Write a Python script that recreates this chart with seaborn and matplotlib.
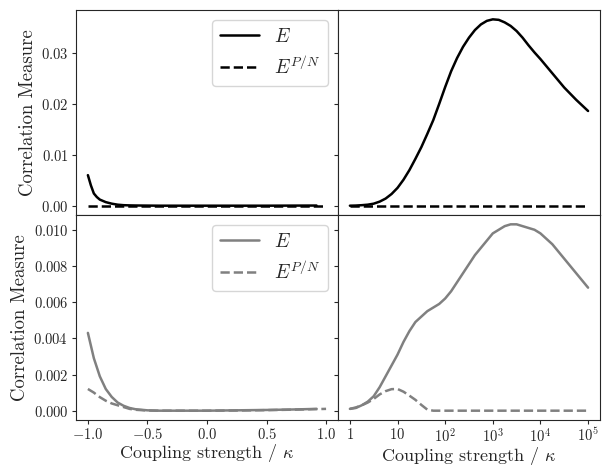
import numpy as np
import matplotlib
matplotlib.use('Agg')
import matplotlib.pyplot as plt
from matplotlib.ticker import NullLocator
import seaborn as sns

# --- data ---
# left column: coupling strength in [-1, 1]
x_left_E = [-1.0, -0.975, -0.95, -0.925, -0.9, -0.85, -0.8, -0.75, -0.7, -0.65,
            -0.6, -0.5, -0.4, -0.25, 0.0, 0.25, 0.5, 0.75, 0.92]
x_left_PN = [-1.0, -0.975, -0.95, -0.925, -0.9, -0.85, -0.8, -0.75, -0.7, -0.65,
             -0.6, -0.5, -0.4, -0.25, 0.0, 0.25, 0.5, 0.75, 1.0]

top_left_E = [0.0060, 0.0040, 0.0024, 0.0017, 0.0012, 0.0007, 0.0004, 0.0002,
              0.0001, 0.00006, 0.00004, 0.00002, 0.0, 0.0, 0.0, 0.0, 0.0,
              0.00002, 0.00003]
top_left_PN = [0.0] * 19

bot_left_E = [0.0043, 0.0036, 0.0029, 0.0024, 0.0019, 0.0012, 0.00076, 0.00045,
              0.00027, 0.00015, 0.00008, 0.00002, 0.0, 0.0, 0.0, 0.00002,
              0.00004, 0.00007, 0.0001]
bot_left_PN = [0.0012, 0.0011, 0.0010, 0.00087, 0.00075, 0.00055, 0.0004, 0.0003,
               0.0002, 0.0001, 0.00005, 0.00001, 0.0, 0.0, 0.0, 0.00001,
               0.00003, 0.00006, 0.0001]

# right column: coupling strength 1 .. 1e5 (log10 of kappa)
log_kappa = [0.0, 0.125, 0.25, 0.375, 0.5, 0.625, 0.75, 0.875, 1.0, 1.125,
             1.25, 1.375, 1.5, 1.625, 1.75, 1.875, 2.0, 2.125, 2.25, 2.375,
             2.5, 2.625, 2.75, 2.875, 3.0, 3.125, 3.25, 3.375, 3.5, 3.625,
             3.75, 3.875, 4.0, 4.125, 4.25, 4.375, 4.5, 4.625, 4.75, 4.875, 5.0]

top_right_E = [0.0000, 0.00003, 0.0001, 0.0002, 0.0004, 0.0008, 0.0014, 0.0023,
               0.0035, 0.0051, 0.0070, 0.0092, 0.0115, 0.0141, 0.0168, 0.0200,
               0.0233, 0.0264, 0.0290, 0.0312, 0.0330, 0.0345, 0.0356, 0.0363,
               0.0366, 0.0365, 0.0360, 0.0353, 0.0343, 0.0330, 0.0315, 0.0301,
               0.0288, 0.0274, 0.0260, 0.0246, 0.0232, 0.0220, 0.0208, 0.0197,
               0.0186]
top_right_PN = [0.0] * 41

bot_right_E = [0.0001, 0.00015, 0.0003, 0.0005, 0.0008, 0.0013, 0.0019, 0.0025,
               0.0031, 0.0038, 0.0044, 0.0049, 0.0052, 0.0055, 0.0057, 0.0059,
               0.0062, 0.0066, 0.0071, 0.0076, 0.0081, 0.0086, 0.0090, 0.0094,
               0.0098, 0.0100, 0.0102, 0.0103, 0.0103, 0.0102, 0.0101, 0.0100,
               0.0098, 0.0095, 0.0092, 0.0088, 0.0084, 0.0080, 0.0076, 0.0072,
               0.0068]
bot_right_PN = [0.0001, 0.00018, 0.0003, 0.00045, 0.00065, 0.0009, 0.00108,
                0.00119, 0.0012, 0.00105, 0.00083, 0.0006, 0.00032, 0.00006,
                0.0, 0.0, 0.0, 0.0, 0.0, 0.0, 0.0, 0.0, 0.0, 0.0, 0.0, 0.0,
                0.0, 0.0, 0.0, 0.0, 0.0, 0.0, 0.0, 0.0, 0.0, 0.0, 0.0, 0.0,
                0.0, 0.0, 0.0]

kappa = 10 ** np.array(log_kappa)
kappa_ticks = [1, 10, 100, 1e3, 1e4, 1e5]
kappa_labels = ['$1$', '$10$', '$10^{2}$', '$10^{3}$', '$10^{4}$', '$10^{5}$']

# === style ===
sns.set_style('ticks')
plt.rcParams['font.family'] = 'serif'
plt.rcParams['font.serif'] = ['cmr10']
plt.rcParams['mathtext.fontset'] = 'cm'
plt.rcParams['axes.formatter.use_mathtext'] = True
plt.rcParams['axes.unicode_minus'] = True

fig, axes = plt.subplots(2, 2, figsize=(6.05, 4.66), dpi=100, sharex='col', sharey='row')
fig.subplots_adjust(left=0.1256, right=0.9917, top=0.9785, bottom=0.0987, hspace=0, wspace=0)

rows = [('black', top_left_E, top_left_PN, top_right_E, top_right_PN),
        ('grey', bot_left_E, bot_left_PN, bot_right_E, bot_right_PN)]

for i, (col, lE, lPN, rE, rPN) in enumerate(rows):
    axl, axr = axes[i]
    sns.lineplot(x=x_left_E, y=lE, ax=axl, color=col, lw=1.8, label='$E$')
    sns.lineplot(x=x_left_PN, y=lPN, ax=axl, color=col, lw=1.8, linestyle='--', label='$E^{P/N}$')
    sns.lineplot(x=kappa, y=rE, ax=axr, color=col, lw=1.8)
    sns.lineplot(x=kappa, y=rPN, ax=axr, color=col, lw=1.8, linestyle='--')
    axl.legend(loc='upper right', fontsize=14, handlelength=2.0)
    axl.set_ylabel('Correlation Measure', fontsize=13.5, labelpad=3)
    axr.set_xscale('log')
    for ax in (axl, axr):
        for s in ax.spines.values():
            s.set_visible(True)
            s.set_color('0.15')
        ax.tick_params(labelsize=10.5, length=3, pad=2.5)
    axr.tick_params(axis='y', labelleft=False)

axes[0, 0].set_yticks([0.0, 0.01, 0.02, 0.03])
axes[1, 0].set_yticks([0.0, 0.002, 0.004, 0.006, 0.008, 0.010])
axes[1, 0].set_xticks([-1.0, -0.5, 0.0, 0.5, 1.0])
axes[1, 1].set_xticks(kappa_ticks, labels=kappa_labels)
axes[1, 1].xaxis.set_minor_locator(NullLocator())
for ax in axes[0]:
    ax.tick_params(axis='x', length=0, labelbottom=False)
for ax in axes[1]:
    ax.tick_params(axis='x', pad=2)
    ax.set_xlabel('Coupling strength / $\\kappa$', fontsize=13, labelpad=0)

fig.savefig('out.png', dpi=100)
